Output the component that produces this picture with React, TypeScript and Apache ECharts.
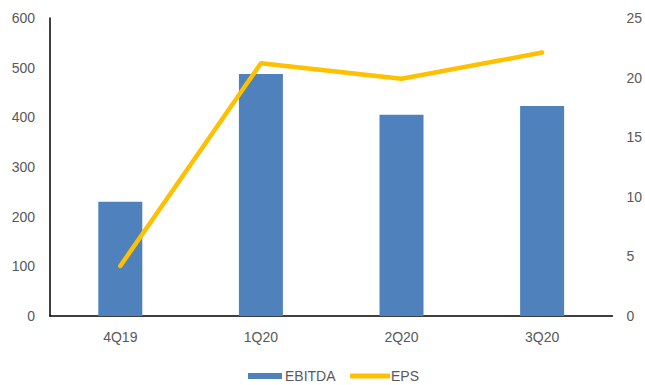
import React, { useEffect, useRef } from "react";
import * as echarts from "echarts";

const categories = ["4Q19", "1Q20", "2Q20", "3Q20"];
const ebitda = [230, 487, 405, 423];
const eps = [4.2, 21.2, 19.9, 22.1];
const leftTicks = { min: 0, max: 600, interval: 100 };
const rightTicks = { min: 0, max: 25, interval: 5 };

const FONT = "Liberation Sans";
const GRAY = "#595959";

export default function App() {
  const ref = useRef<HTMLDivElement>(null);
  useEffect(() => {
    if (!ref.current) return;
    const chart = echarts.init(ref.current, null, { renderer: "svg", width: 645, height: 385 });
    chart.setOption({
      animation: false,
      textStyle: { fontFamily: FONT },
      grid: { left: 50, right: 28, top: 18, bottom: 69, containLabel: false },
      legend: [
        {
          data: [{ name: "EBITDA", icon: "rect" }],
          left: 248,
          top: 369,
          itemWidth: 34,
          itemHeight: 6,
          itemGap: 4,
          textStyle: { color: GRAY, fontSize: 14, fontFamily: FONT, padding: [0, 0, 0, -2] },
          padding: 0,
        },
        {
          data: [{ name: "EPS", icon: "roundRect" }],
          left: 350,
          top: 369,
          itemWidth: 40,
          itemHeight: 5,
          textStyle: { color: GRAY, fontSize: 14, fontFamily: FONT, padding: [0, 0, 0, -4] },
          padding: 0,
        },
      ],
      xAxis: {
        type: "category",
        data: categories,
        boundaryGap: true,
        axisLine: { show: true, lineStyle: { color: "#000", width: 1.5 } },
        axisTick: { show: false },
        axisLabel: { color: GRAY, fontSize: 14, fontFamily: FONT, margin: 14 },
        splitLine: { show: false },
      },
      yAxis: [
        {
          type: "value",
          min: leftTicks.min,
          max: leftTicks.max,
          interval: leftTicks.interval,
          axisLine: { show: true, lineStyle: { color: "#000", width: 1.5 } },
          axisTick: { show: false },
          splitLine: { show: false },
          axisLabel: { color: GRAY, fontSize: 14, fontFamily: FONT, margin: 15 },
        },
        {
          type: "value",
          min: rightTicks.min,
          max: rightTicks.max,
          interval: rightTicks.interval,
          position: "right",
          axisLine: { show: false },
          axisTick: { show: false },
          splitLine: { show: false },
          axisLabel: { color: GRAY, fontSize: 14, fontFamily: FONT, margin: 14 },
        },
      ],
      series: [
        {
          name: "EBITDA",
          type: "bar",
          data: ebitda,
          barWidth: 44,
          itemStyle: { color: "#4F81BD" },
          yAxisIndex: 0,
        },
        {
          name: "EPS",
          type: "line",
          data: eps,
          yAxisIndex: 1,
          symbol: "none",
          lineStyle: { color: "#FFC000", width: 4.5, cap: "round", join: "round" },
          itemStyle: { color: "#FFC000" },
        },
      ],
    });
    return () => chart.dispose();
  }, []);
  return (
    <div
      ref={ref}
      style={{ width: 645, height: 385, position: "absolute", left: 0, top: 0, overflow: "hidden" }}
    />
  );
}
